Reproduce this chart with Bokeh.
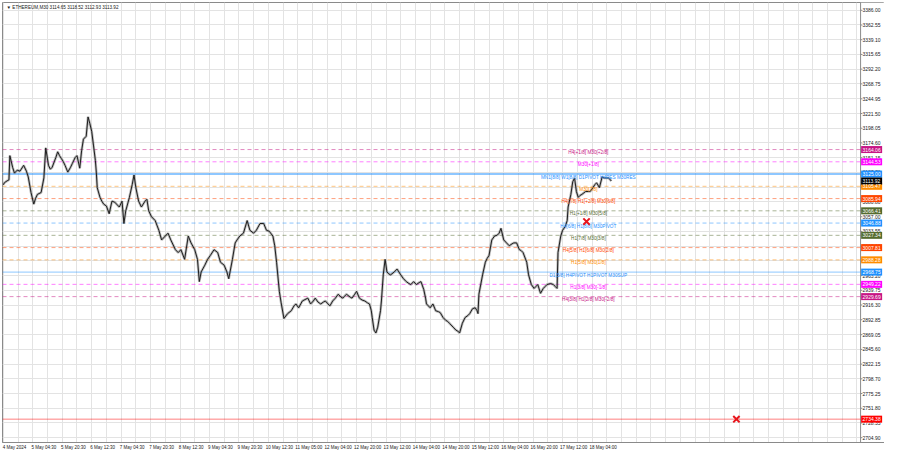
from bokeh.plotting import figure
from bokeh.models import Range1d, FixedTicker, Label, NumeralTickFormatter
from bokeh.embed import file_html
from bokeh.resources import INLINE
from bokeh.core.properties import value

# ---------------- data ----------------
symbol_title = "▼ ETHEREUM,M30  3114.65 3118.52 3112.93 3113.92"

bar_index = [0,1,4,6,7,10,12,15,18,22,25,27,30,33,35,37,41,44,46,49,
             51,53,57,59,61,63,65,67,70,73,75,78,80,83,85,87,90,92,94,96,
             98,100,101,102,105,107,109,112,115,118,121,123,126,129,131,133,137,140,142,144,
             147,150,154,156,158,161,165,169,172,176,179,182,187,190,193,197,201,204,208,211,
             213,215,219,222,225,229,233,236,240,243,245,249,252,254,257,261,265,268,272,275,
             279,283,286,289,293,295,297,300,302,305,309,313,316,318,321,325,329,331,334,337,
             339,342,345,348,350,353,355,358,361,364,367,369,371,373,377,379,382,384,387,390,
             393,396,398,400,401,403,405,407,410,411,413,415,417,419,421,425,428,430,432,435,
             438,441,443,446,449,452,454,457,459,460,462,464,467,470,473,475,478,481,483,485,
             489,492,494,496,499,502,505,507,510,513,515,516,517,521,524,526,528,531,534,537,
             539,541,544,547,550,553,555,558,561,563,565,569,571,574,577,579,581,584,587,589,
             591,595,598,600,602,603,606,608,611,613,614,617,619,621,623,625,627,629,633,636,
             638,641,643,645,648,651,653,655,658,661]

close = [3108.0,3111.1,3114.2,3115.7,3154.3,3135.8,3126.5,3131.2,3129.6,3138.9,
         3129.6,3120.4,3095.6,3077.1,3086.4,3092.6,3095.6,3118.8,3166.7,3138.9,
         3132.7,3135.8,3151.3,3160.5,3154.3,3149.7,3145.1,3138.9,3128.1,3135.8,
         3142.0,3151.3,3154.3,3134.3,3162.1,3180.6,3185.2,3216.1,3205.3,3193.0,
         3169.8,3146.6,3128.1,3103.4,3087.9,3081.8,3077.1,3074.0,3061.7,3081.8,
         3080.2,3077.1,3072.5,3081.8,3046.2,3066.3,3087.9,3108.0,3123.5,3103.4,
         3081.8,3072.5,3081.8,3084.8,3066.3,3057.0,3050.9,3035.4,3020.0,3026.2,
         3030.8,3020.0,3004.5,2999.9,3004.5,2989.1,3026.2,3015.3,3004.5,2989.1,
         2953.6,2969.0,2979.8,2989.1,2995.3,3004.5,2999.9,2984.5,2979.8,2969.0,
         2958.2,2989.1,3015.3,3020.0,3026.2,3030.8,3050.9,3035.4,3030.8,3035.4,
         3046.2,3046.2,3035.4,3033.9,3026.2,3010.7,2984.5,2938.1,2919.6,2894.9,
         2902.6,2907.2,2915.0,2918.0,2911.9,2922.7,2925.8,2927.3,2918.0,2922.7,
         2927.3,2921.1,2918.0,2921.1,2922.7,2918.0,2915.0,2922.7,2927.3,2933.5,
         2928.9,2927.3,2930.4,2933.5,2928.9,2927.3,2933.5,2938.1,2927.3,2924.2,
         2922.7,2919.6,2918.0,2907.2,2896.4,2876.3,2871.7,2881.0,2907.2,2922.7,
         2964.4,2989.1,2969.0,2965.9,2964.4,2969.0,2973.6,2969.0,2964.4,2958.2,
         2953.6,2950.5,2948.9,2953.6,2948.9,2952.0,2953.6,2941.2,2927.3,2918.0,
         2915.0,2911.9,2918.0,2907.2,2905.7,2904.1,2896.4,2891.8,2890.2,2887.2,
         2881.0,2876.3,2874.8,2871.7,2887.2,2896.4,2899.5,2902.6,2910.3,2911.9,
         2907.2,2902.6,2933.5,2964.4,2984.5,2990.6,2995.3,3020.0,3026.2,3027.7,
         3030.8,3038.5,3020.0,3015.3,3010.7,3013.8,3015.3,3015.3,3004.5,3003.0,
         2999.9,2984.5,2964.4,2948.9,2942.8,2945.8,2948.9,2935.0,2942.8,2945.8,
         2948.9,2950.5,2948.9,2945.8,2942.8,2999.9,3026.2,3035.4,3041.6,3050.9,
         3072.5,3092.6,3112.6,3118.8,3097.2,3087.9,3091.0,3092.6,3097.2,3097.2,
         3097.2,3103.4,3108.0,3111.1,3103.4,3120.4,3118.8,3118.8,3118.8,3113.92]

time_labels = ["4 May 2024", "5 May 04:30", "5 May 20:30", "6 May 12:30", "7 May 04:30",
               "7 May 20:30", "8 May 12:30", "9 May 04:30", "9 May 20:30", "10 May 12:30",
               "11 May 05:00", "12 May 04:00", "12 May 20:00", "13 May 12:00", "14 May 04:00",
               "14 May 20:00", "15 May 12:00", "16 May 04:00", "16 May 20:00", "17 May 12:00",
               "18 May 04:00"]
bars_per_label = 32

price_ticks = [3386.00, 3362.55, 3339.10, 3315.65, 3292.20, 3268.75, 3244.95, 3221.50,
               3198.05, 3174.60, 3151.15, 3127.70, 3104.25, 3080.80, 3057.00, 3033.55,
               3010.10, 2986.65, 2963.20, 2939.75, 2916.30, 2892.85, 2869.05, 2845.60,
               2822.15, 2798.70, 2775.25, 2751.80, 2728.35, 2704.90]

levels = [3164.06, 3144.53, 3125.00, 3105.47, 3085.94, 3066.41, 3046.88,
          3027.34, 3007.81, 2988.28, 2968.75, 2949.22, 2929.69]
level_texts = ["H4[+1/8] M30[+2/8]", "M30[+1/8]", "MN1[8/8] W1[8/8] D1PIVOT H4RES M30RES",
               "M30[7/8]", "H4[7/8] H1[+2/8] M30[6/8]", "H1[+1/8] M30[5/8]",
               "H4[6/8] H1[8/8] M30PIVOT", "H1[7/8] M30[3/8]", "H4[5/8] H1[6/8] M30[2/8]",
               "H1[5/8] M30[1/8]", "D1[3/8] H4PIVOT H1PIVOT M30SUP", "H1[3/8] M30[-1/8]",
               "H4[3/8] H1[2/8] M30[-2/8]"]

current_price = 3113.92
target_level = 2734.38
cross_bars = [634, 797]
cross_prices = [3049.3, 2734.4]

# ---------------- styles / layout ----------------
level_colors = ["#c71585", "#ff00ff", "#1e90ff", "#ff8c00", "#ff4500", "#556b2f", "#1e90ff",
                "#556b2f", "#ff4500", "#ff8c00", "#1e90ff", "#ff00ff", "#c71585"]
level_dash = ["4 3", "4 3", "solid", "4 3", "4 3", "4 3", "4 3",
              "4 3", "4 3", "4 3", "solid", "4 3", "4 3"]
level_width = [1, 1, 2, 1, 1, 1, 1, 1, 1, 1, 1, 1, 1]
LABEL_BAR = 636
X_START = -1
X_AXIS = 932           # right edge of the chart area (price scale starts here)
X_END = 958            # frame extends over the price-scale strip
X_BOX = X_AXIS + 12
Y_START, Y_END = 2697.2, 3398.4
FONT = "Liberation Sans"
GRID = "#e3e3e3"
BORDER = "#8a8a8a"

p = figure(width=884, height=452, x_range=Range1d(X_START, X_END),
           y_range=Range1d(Y_START, Y_END), y_axis_location="right",
           output_backend="svg", toolbar_location=None,
           min_border_left=2, min_border_top=2, min_border_bottom=0, min_border_right=0)
p.background_fill_color = "white"
p.border_fill_color = "white"
p.outline_line_color = BORDER

# price axis: labels drawn back inside the white price-scale strip
p.yaxis.ticker = FixedTicker(ticks=price_ticks)
p.yaxis.formatter = NumeralTickFormatter(format="0.00")
p.yaxis.major_label_text_font_size = "5px"
p.yaxis.major_label_text_font = FONT
p.yaxis.major_label_text_color = "#202020"
p.yaxis.major_tick_in = 0
p.yaxis.major_tick_out = 0
p.yaxis.minor_tick_line_color = None
p.yaxis.axis_line_color = None
p.yaxis.major_tick_line_color = None
p.yaxis.major_label_standoff = -22

# time axis (labels start at their tick, as in the terminal)
x_ticks = [i * bars_per_label + 12 for i in range(len(time_labels))]
p.xaxis.ticker = FixedTicker(ticks=x_ticks)
p.xaxis.major_label_overrides = {t: lab for t, lab in zip(x_ticks, time_labels)}
p.xaxis.major_label_text_font_size = "4.5px"
p.xaxis.major_label_text_font = FONT
p.xaxis.major_label_text_color = "#202020"
p.xaxis.major_tick_in = 0
p.xaxis.major_tick_out = 0
p.xaxis.major_tick_line_color = None
p.xaxis.minor_tick_line_color = None
p.xaxis.axis_line_color = BORDER
p.xaxis.major_label_standoff = 2

# grid
p.xgrid.ticker = FixedTicker(ticks=list(range(0, X_AXIS, bars_per_label // 2)))
p.ygrid.ticker = FixedTicker(ticks=price_ticks)
p.xgrid.grid_line_color = GRID
p.ygrid.grid_line_color = GRID

# white price-scale strip
p.quad(left=[X_AXIS], right=[X_END], bottom=[Y_START], top=[Y_END],
       fill_color="white", line_color=None)
p.segment(x0=[X_AXIS], x1=[X_AXIS], y0=[Y_START], y1=[Y_END], line_color=BORDER, line_width=1)
p.segment(x0=[X_AXIS] * len(price_ticks), x1=[X_AXIS + 2] * len(price_ticks),
          y0=price_ticks, y1=price_ticks, line_color=BORDER, line_width=1)

# level lines
for lv, col, dash, w in zip(levels, level_colors, level_dash, level_width):
    p.segment(x0=[X_START], x1=[X_AXIS], y0=[lv], y1=[lv], line_color=col,
              line_alpha=0.5, line_dash=dash, line_width=w)
p.segment(x0=[X_START], x1=[X_AXIS], y0=[target_level], y1=[target_level],
          line_color="#ff0000", line_alpha=0.5, line_width=1)

# price path
p.line(bar_index, close, line_color="#7a7a7a", line_width=2.6, line_alpha=0.5)
p.line(bar_index, close, line_color="#1e1e1e", line_width=1.0)

# level texts
p.text(x=[LABEL_BAR] * len(levels), y=levels, text=level_texts, text_color=level_colors,
       text_font=value(FONT), text_font_size=value("4.7px"), text_align="center",
       text_baseline="middle", y_offset=3)

# crosses
p.scatter(cross_bars, cross_prices, marker="x", size=9, line_color="#e8141b", line_width=2)

# right-hand price boxes (above the scale labels)
box_prices = levels + [current_price, target_level]
box_colors = level_colors + ["#000000", "#ff0000"]
box_texts = [f"{v:.2f}" for v in box_prices]
p.rect(x=[X_BOX] * len(box_prices), y=box_prices, width=21, height=7,
       width_units="screen", height_units="screen", fill_color=box_colors,
       line_color=None, level="overlay")
p.text(x=[X_AXIS] * len(box_prices), y=box_prices, text=box_texts, x_offset=2,
       text_color="white", text_font=value(FONT), text_font_size=value("5px"),
       text_align="left", text_baseline="middle", level="overlay")

# title
p.add_layout(Label(x=X_START, y=Y_END, x_offset=4, y_offset=-2, text=symbol_title,
                   text_font=FONT, text_font_size="4.6px", text_color="#202020",
                   text_baseline="top", text_align="left"))

open("out.html", "w").write(file_html(p, INLINE))
